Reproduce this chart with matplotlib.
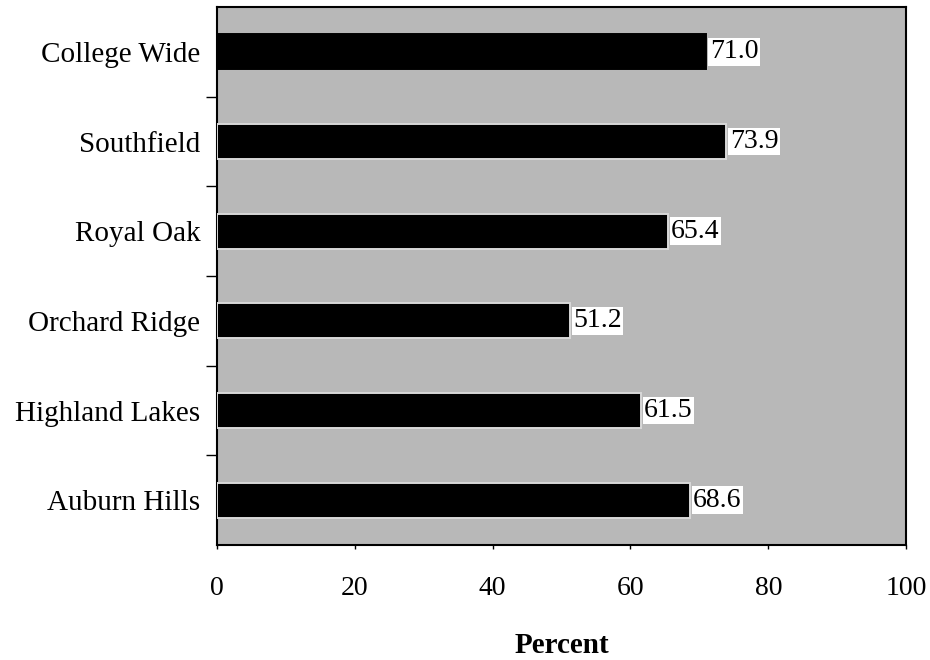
import matplotlib
matplotlib.use("Agg")
import matplotlib.pyplot as plt
import numpy as np

categories = ["Auburn Hills", "Highland Lakes", "Orchard Ridge", "Royal Oak", "Southfield", "College Wide"]
values = [68.6, 61.5, 51.2, 65.4, 73.9, 71.0]
xticks = [0, 20, 40, 60, 80, 100]

plt.rcParams['font.family'] = ['Liberation Serif', 'DejaVu Serif']

fig = plt.figure(figsize=(9.3, 6.6), dpi=100)
ax = fig.add_axes([0.2333, 0.1742, 0.7410, 0.8152])
ax.set_facecolor('#b8b8b8')

y = np.arange(len(categories))
for i, (c, v) in enumerate(zip(categories, values)):
    ec = 'black' if c == "College Wide" else '#d8d8d8'
    ax.barh(i, v, height=0.39, color='black', edgecolor=ec, linewidth=1.4, zorder=3)
    ax.text(v + 0.5, i, f"{v:.1f}", va='center', ha='left', fontsize=20,
            bbox=dict(facecolor='white', edgecolor='none', pad=1.0), zorder=4)

ax.set_xlim(0, 100)
ax.set_ylim(-0.5, len(categories) - 0.5)
ax.set_yticks(y)
ax.set_yticklabels(categories, fontsize=21)
ax.set_yticks(np.arange(0.5, len(categories) - 1, 1.0), minor=True)
ax.tick_params(axis='y', which='major', length=0, pad=12)
ax.tick_params(axis='y', which='minor', length=8, width=1, direction='out')
ax.set_xticks(xticks)
ax.set_xticklabels([str(t) for t in xticks], fontsize=20)
ax.tick_params(axis='x', which='major', length=3, width=1, direction='out', pad=19)
for s in ax.spines.values():
    s.set_linewidth(1.5)
    s.set_color('black')

fig.text(0.2333 + 0.7410 / 2, 1 - 653 / 660, "Percent", fontsize=21, fontweight='bold',
         ha='center', va='baseline')

fig.savefig("out.png", dpi=100)
